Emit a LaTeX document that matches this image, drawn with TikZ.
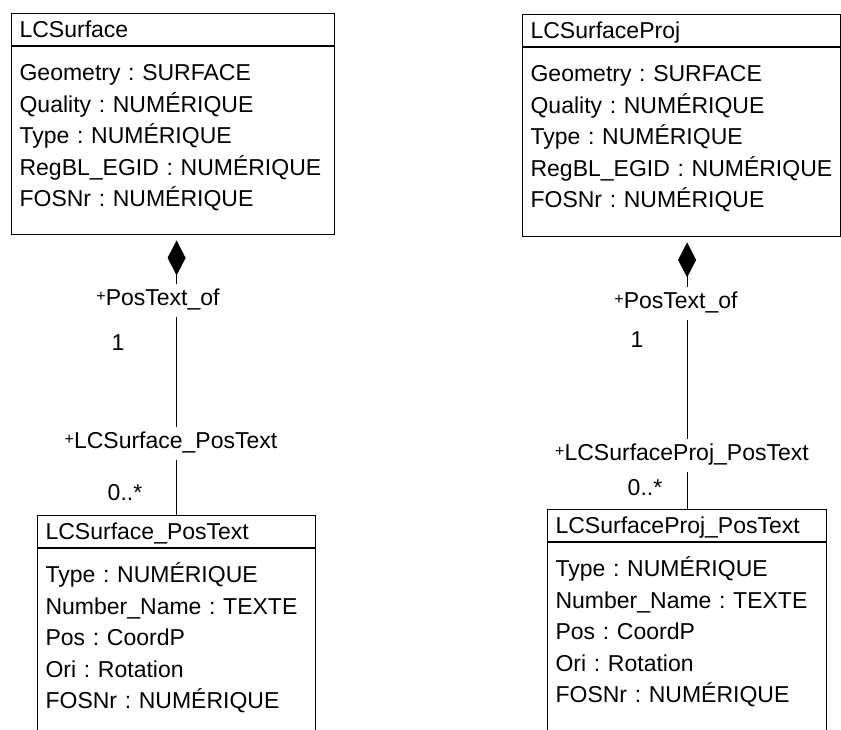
\documentclass[tikz,border=0pt]{standalone}
\usepackage{fontspec}
\setmainfont{Liberation Sans}
\usetikzlibrary{arrows.meta}
\newcommand{\pub}{\raisebox{4pt}{\fontsize{16}{16}\selectfont +}}
\tikzset{
  umlhead/.style={draw, anchor=north west, text width=#1, align=left,
    inner xsep=8pt, inner ysep=0pt, minimum height=32pt,
    text height=18pt, text depth=2pt},
  umlbody/.style={draw, anchor=north west, text width=#1, align=left,
    inner xsep=8pt, inner ysep=0pt, text height=34pt},
  role/.style={fill=white, inner xsep=2pt, inner ysep=5pt,
    text height=17pt, text depth=6pt},
  mult/.style={inner sep=0pt},
  comp/.style={{Diamond[length=35pt,width=18pt]}-, shorten <=5pt}
}
\begin{document}
\begin{tikzpicture}[x=1pt, y=-1pt, line width=1.2pt,
    font=\fontsize{23}{31.5}\selectfont\frenchspacing]
  \useasboundingbox (0,0) rectangle (841,729);
  \clip (0,0) rectangle (841,729);

  % classes
  \node[umlhead=307pt] (lc) at (11,13) {LCSurface};
  \node[umlbody=307pt, text depth=154pt] (lca) at (lc.south west)
    {Geometry : SURFACE\\Quality : NUMÉRIQUE\\Type : NUMÉRIQUE\\
     RegBL\_EGID : NUMÉRIQUE\\FOSNr : NUMÉRIQUE};
  \node[umlhead=302pt] (lp) at (522,14) {LCSurfaceProj};
  \node[umlbody=302pt, text depth=155pt] (lpa) at (lp.south west)
    {Geometry : SURFACE\\Quality : NUMÉRIQUE\\Type : NUMÉRIQUE\\
     RegBL\_EGID : NUMÉRIQUE\\FOSNr : NUMÉRIQUE};
  \node[umlhead=262pt] (lct) at (37,515) {LCSurface\_PosText};
  \node[umlbody=262pt, text depth=240pt] (lcta) at (lct.south west)
    {Type : NUMÉRIQUE\\Number\_Name : TEXTE\\Pos : CoordP\\
     Ori : Rotation\\FOSNr : NUMÉRIQUE};
  \node[umlhead=263pt] (lpt) at (547,509) {LCSurfaceProj\_PosText};
  \node[umlbody=263pt, text depth=240pt] (lpta) at (lpt.south west)
    {Type : NUMÉRIQUE\\Number\_Name : TEXTE\\Pos : CoordP\\
     Ori : Rotation\\FOSNr : NUMÉRIQUE};

  % compositions
  \draw[comp] (lca.south -| lct.north) -- (lct.north);
  \draw[comp] (lpa.south -| lpt.north) -- (lpt.north);

  % roles and multiplicities
  \node[role] (lcr) at (158,300) {\pub PosText\_of};
  \node[mult] (lcm) at (118,343) {1};
  \node[role] (lctr) at (171,443) {\pub LCSurface\_PosText};
  \node[mult] (lctm) at (125,493) {0..*};
  \node[role] (lpr) at (676,303) {\pub PosText\_of};
  \node[mult] (lpm) at (637,340) {1};
  \node[role] (lptr) at (682,455) {\pub LCSurfaceProj\_PosText};
  \node[mult] (lptm) at (645,488) {0..*};
\end{tikzpicture}
\end{document}
